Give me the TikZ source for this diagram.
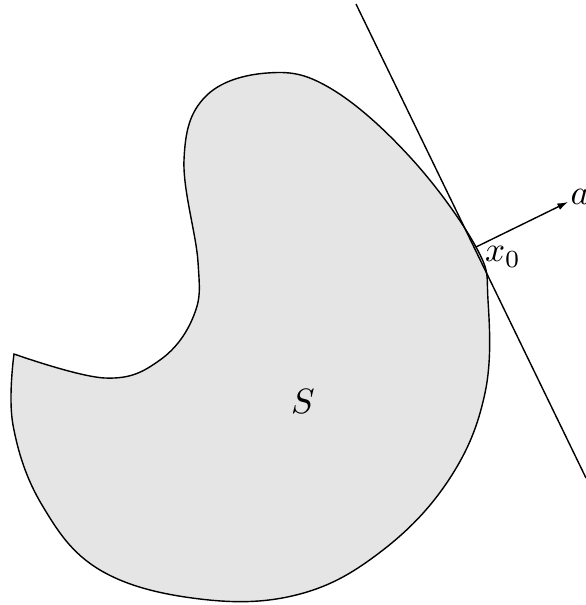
\documentclass[tikz,border=0pt]{standalone}
\usepackage{amsmath,amssymb}
\usepackage{tikz}
\usetikzlibrary{positioning,arrows.meta}

\begin{document}
\begin{tikzpicture}[
		x=0.01cm, y=-0.01cm,
		region/.style={draw, line width=0.4pt, fill=black!10},
		lbl/.style={inner sep=0pt}
		]
		
		\useasboundingbox (0,0) rectangle (586,605);
		
		\draw[region] plot[smooth, tension=0.65] coordinates {
			(14,354) (13,425) (42,505) (100,570) (200,599) (300,594)
			(383,550) (450,478) (485,393) (488,300) (476,247) (410,157)
			(330,88) (267,73) (205,97) (184,160) (198,262) (194,315)
			(160,360) (105,378) (14,354)
		} -- cycle;
		
		\coordinate (x0) at (476,247);
		\coordinate (ttop) at (356,4);
		\coordinate (tbot) at (586,478);
		\coordinate (aend) at (568,202);
		
		\node[lbl] (S) at (303,401) {$S$};
		\node[lbl] (xlab) at (503,257) {$x_0$};
		\node[lbl] (a) at (580,197) {$a$};
		
		\draw[line width=0.4pt] (ttop)--(tbot);
		\draw[line width=0.4pt,-{Latex[length=3pt,width=2pt]}] (x0)--(aend);
		
	\end{tikzpicture}
\end{document}
